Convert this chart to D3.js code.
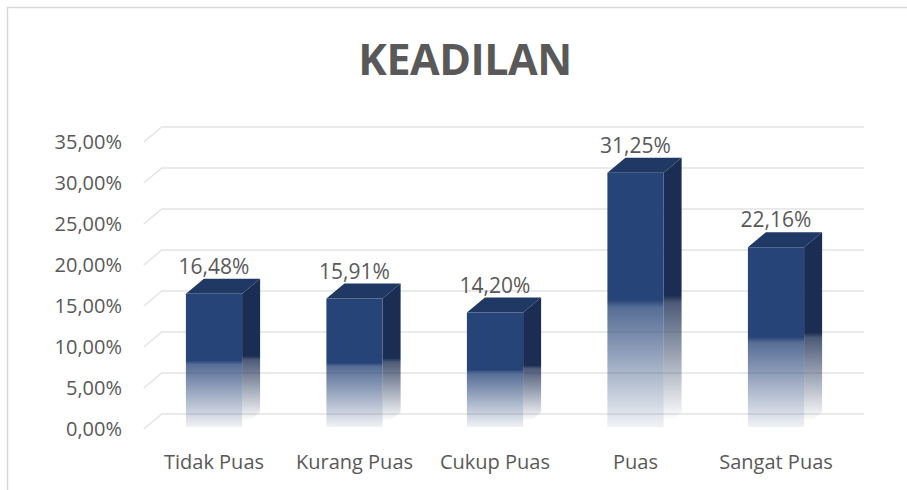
<!DOCTYPE html>
<html><head><meta charset="utf-8">
<script src="https://cdn.jsdelivr.net/npm/d3@7/dist/d3.min.js"></script>
<style>body{margin:0;background:#fff}svg{display:block}text{font-family:"Open Sans",sans-serif;fill:#595959}</style>
</head><body><svg id="c" width="907" height="490"></svg>
<script>
const categories = ["Tidak Puas","Kurang Puas","Cukup Puas","Puas","Sangat Puas"];
const values = [16.48, 15.91, 14.20, 31.25, 22.16];
const valueLabels = ["16,48%","15,91%","14,20%","31,25%","22,16%"];
const ticks = [0,5,10,15,20,25,30,35];
const tickLabels = ["0,00%","5,00%","10,00%","15,00%","20,00%","25,00%","30,00%","35,00%"];
const title = "KEADILAN";

const svg = d3.select("#c");
const dx = 18, dy = -15;
const x = d3.scaleBand().domain(categories).range([143.75, 846.25]).paddingInner(0.6).paddingOuter(0.3);
const y = d3.scaleLinear().domain([0,35]).range([429,142]);

// chart border
svg.append("rect").attr("x",7.5).attr("y",7.5).attr("width",1000).attr("height",1000)
  .attr("fill","none").attr("stroke","#d9d9d9").attr("stroke-width",1.5);

// title
svg.append("text").attr("x",465).attr("y",75).attr("text-anchor","middle")
  .attr("font-size",43).attr("font-weight",700).attr("letter-spacing",-0.5).text(title);

const defs = svg.append("defs");
function grad(id, color, endOp, y1, y2){
  const g = defs.append("linearGradient").attr("id",id).attr("gradientUnits","userSpaceOnUse")
    .attr("x1",0).attr("y1",y1).attr("x2",0).attr("y2",y2);
  g.append("stop").attr("offset",0).attr("stop-color",color).attr("stop-opacity",1);
  g.append("stop").attr("offset",0.5).attr("stop-color",color).attr("stop-opacity",1);
  g.append("stop").attr("offset",0.53).attr("stop-color",color).attr("stop-opacity",0.78);
  g.append("stop").attr("offset",1).attr("stop-color",color).attr("stop-opacity",endOp);
}

// gridlines (back wall + left diagonal)
const x0 = x.range()[0];
const grid = svg.append("g").attr("stroke","#e4e4e4").attr("stroke-width",1.5).attr("fill","none");
ticks.forEach(t=>{
  grid.append("path").attr("d",`M${x0},${y(t)}L${x0+dx},${y(t)+dy}L${x.range()[1]+dx},${y(t)+dy}`);
});

// y axis labels
svg.append("g").selectAll("text").data(ticks).join("text")
  .attr("x",122).attr("y",d=>y(d)).attr("dy","0.36em").attr("text-anchor","end")
  .attr("font-size",20).text((d,i)=>tickLabels[i]);

// bars
const bars = svg.append("g").selectAll("g").data(values).join("g");
bars.each(function(v,i){
  const g = d3.select(this);
  const bx = x(categories[i]), bw = x.bandwidth();
  const top = y(v), bot = y(0)-2;
  grad("gF"+i,"#264478",0.07,top,bot);
  grad("gS"+i,"#1b2d52",0.0,top-3,bot-6);
  g.append("path").attr("fill",`url(#gS${i})`)
    .attr("d",`M${bx+bw},${top}L${bx+bw+dx},${top+dy}L${bx+bw+dx},${bot+dy}L${bx+bw},${bot}Z`);
  g.append("rect").attr("x",bx).attr("y",top).attr("width",bw).attr("height",bot-top).attr("fill",`url(#gF${i})`);
  g.append("path").attr("fill","#203864")
    .attr("d",`M${bx},${top}L${bx+dx},${top+dy}L${bx+bw+dx},${top+dy}L${bx+bw},${top}Z`);
  g.append("text").attr("x",bx+bw/2).attr("y",top+dy-5).attr("text-anchor","middle")
    .attr("font-size",21).text(valueLabels[i]);
});

// category labels
svg.append("g").selectAll("text").data(categories).join("text")
  .attr("x",d=>x(d)+x.bandwidth()/2).attr("y",469).attr("text-anchor","middle")
  .attr("font-size",20).text(d=>d);
</script></body></html>
